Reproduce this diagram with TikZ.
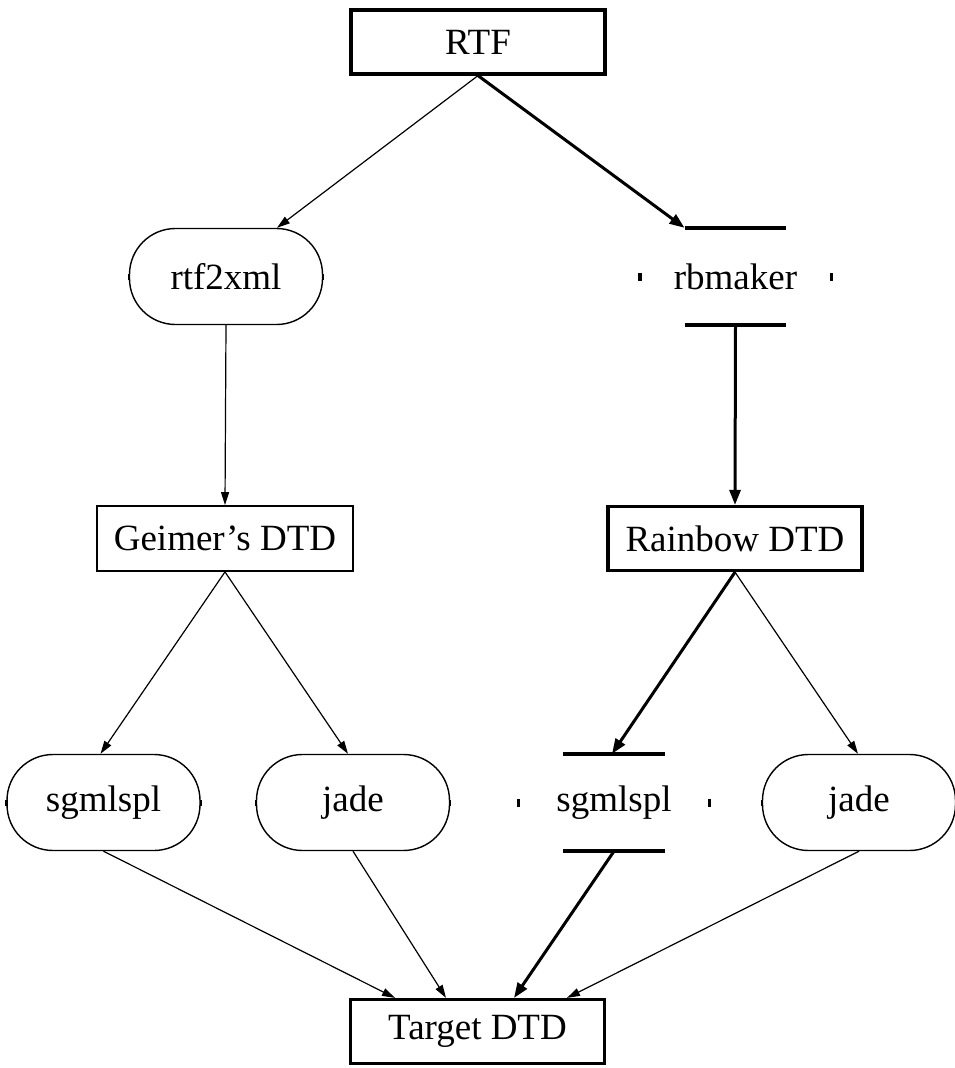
\documentclass[tikz,border=0pt]{standalone}
\usepackage{fontspec}
\setmainfont{Liberation Serif}
\usetikzlibrary{arrows.meta}
\begin{document}
\begin{tikzpicture}[x=1pt,y=-1pt,
  every node/.style={font=\fontsize{37}{40}\selectfont, inner sep=0pt},
  boxthin/.style={draw, line width=1.8pt, minimum width=256pt, minimum height=65pt},
  boxbold/.style={draw, line width=3.2pt, minimum width=254pt, minimum height=64pt},
  stadium/.style={draw, line width=1.4pt, rounded corners=46pt, minimum width=193pt, minimum height=96pt},
  ghost/.style={minimum width=191pt, minimum height=97pt},
  boldline/.style={line width=3.6pt},
  thintick/.style={line width=2.4pt},
  boldtick/.style={line width=3.4pt},
  thinarrow/.style={line width=1.2pt, -{Triangle[length=13pt,width=8pt]}},
  boldarrow/.style={line width=3pt, -{Triangle[length=15pt,width=11pt]}}]
\useasboundingbox (0,0) rectangle (955,1068);

\node[boxbold] (rtf) at (478,42) {RTF};
\node[stadium] (rtf2xml) at (226,276.5) {rtf2xml};
\node[ghost] (rbmaker) at (735.5,276.5) {rbmaker};
\node[boxthin] (geimer) at (225,538.5) {Geimer’s DTD};
\node[boxbold] (rainbow) at (735,538.5) {Rainbow DTD};
\node[stadium] (sgml1) at (103.5,802.5) {sgmlspl};
\node[stadium] (jade1) at (353,802.5) {jade};
\node[ghost] (sgml2) at (614,802.5) {sgmlspl};
\node[stadium] (jade2) at (859,802.5) {jade};
\node[boxbold] (target) at (477.5,1031.5) {Target DTD};

% bold stadium pieces
\foreach \n in {rbmaker,sgml2} {
  \draw[boldline] ([xshift=45pt]\n.north west) -- ([xshift=-45pt]\n.north east);
  \draw[boldline] ([xshift=45pt]\n.south west) -- ([xshift=-45pt]\n.south east);
  \draw[boldtick] ([yshift=-4pt]\n.west) -- ([yshift=4pt]\n.west);
  \draw[boldtick] ([yshift=-4pt]\n.east) -- ([yshift=4pt]\n.east);
}
\foreach \n in {rtf2xml,sgml1,jade1,jade2} {
  \draw[thintick] ([yshift=-3pt]\n.west) -- ([yshift=3pt]\n.west);
  \draw[thintick] ([yshift=-3pt]\n.east) -- ([yshift=3pt]\n.east);
}

% edges
\draw[thinarrow] (rtf.south) -- ([xshift=51pt]rtf2xml.north);
\draw[boldarrow] (rtf.south) -- ([xshift=-51pt]rbmaker.north);
\draw[thinarrow] (rtf2xml.south) -- (geimer.north);
\draw[boldarrow] (rbmaker.south) -- (rainbow.north);
\draw[thinarrow] (geimer.south) -- ([xshift=-3pt]sgml1.north);
\draw[thinarrow] (geimer.south) -- ([xshift=-5pt]jade1.north);
\draw[boldarrow] (rainbow.south) -- ([xshift=-2pt]sgml2.north);
\draw[thinarrow] (rainbow.south) -- ([xshift=-1pt]jade2.north);
\draw[thinarrow] (sgml1.south) -- ([xshift=-82.5pt]target.north);
\draw[thinarrow] (jade1.south) -- ([xshift=-31.5pt]target.north);
\draw[boldarrow] (sgml2.south) -- ([xshift=36.5pt]target.north);
\draw[thinarrow] (jade2.south) -- ([xshift=89.5pt]target.north);
\end{tikzpicture}
\end{document}
